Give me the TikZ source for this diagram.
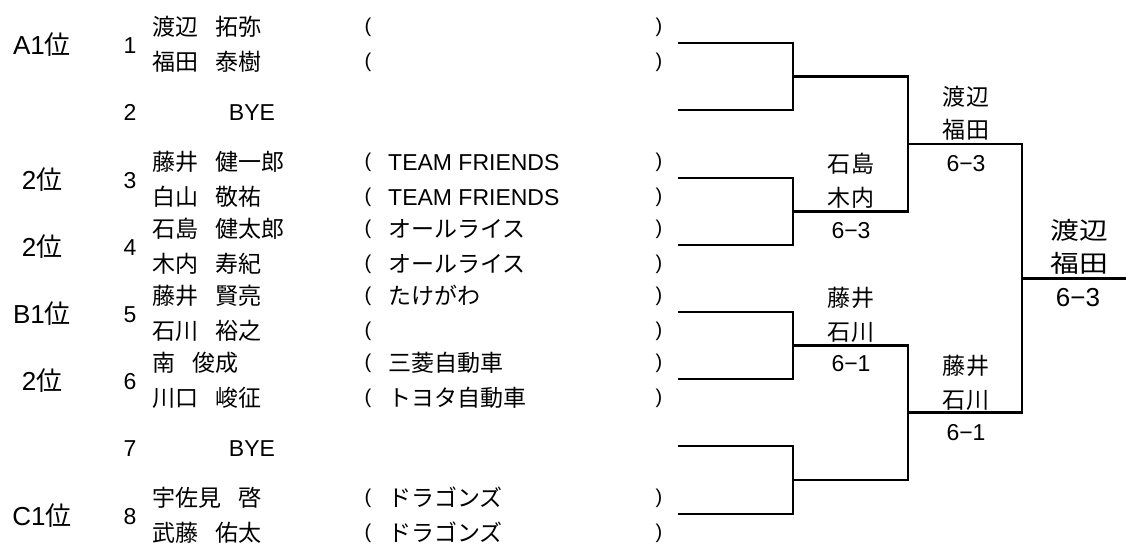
\documentclass[tikz,border=0pt]{standalone}
\usepackage{fontspec}
\setmainfont{Liberation Sans}
\newfontfamily\jp{Noto Sans CJK JP}
\newcommand\gap{\hspace{17pt}}
\newcommand\kk{\kern2pt}

\begin{document}
\begin{tikzpicture}[x=1pt,y=-1pt,
  txt/.style={inner sep=0pt,anchor=base,font=\fontsize{23}{23}\selectfont},
  seed/.style={txt,font=\fontsize{26}{26}\selectfont},
  player/.style={inner sep=0pt,anchor=base west,font=\jp\fontsize{23}{23}\selectfont},
  club/.style={player},
  paren/.style={inner sep=0pt,anchor=base,font=\fontsize{20}{20}\selectfont},
  res/.style={inner sep=0pt,anchor=base,font=\jp\fontsize{23}{23}\selectfont},
  score/.style={inner sep=0pt,anchor=base,font=\fontsize{23}{23}\selectfont},
  bline/.style={line width=2.9pt}]
\useasboundingbox (0,0) rectangle (1126,544);
% Seeds and draw numbers
\node[seed] (sa1) at (42,54) {A1{\jp 位}};
\node[seed] (s3) at (42,189) {2{\jp 位}};
\node[seed] (s4) at (42,256) {2{\jp 位}};
\node[seed] (sb1) at (42,323) {B1{\jp 位}};
\node[seed] (s6) at (42,390) {2{\jp 位}};
\node[seed] (sc1) at (42,525) {C1{\jp 位}};
\node[txt] (n1) at (130,53) {1};
\node[txt] (n2) at (130,120) {2};
\node[txt] (n3) at (130,188) {3};
\node[txt] (n4) at (130,255) {4};
\node[txt] (n5) at (130,322) {5};
\node[txt] (n6) at (130,389) {6};
\node[txt] (n7) at (130,456) {7};
\node[txt] (n8) at (130,524) {8};
\node[txt] (bye2) at (252,120) {BYE};
\node[txt] (bye7) at (252,456) {BYE};
% Players
\node[player] (p1a) at (152,35.5) {渡辺\gap 拓弥};
\node[player] (p1b) at (152,70.5) {福田\gap 泰樹};
\node[player] (p3a) at (152,170.5) {藤井\gap 健一郎};
\node[player] (p3b) at (152,205.5) {白山\gap 敬祐};
\node[player] (p4a) at (152,237.5) {石島\gap 健太郎};
\node[player] (p4b) at (152,272.5) {木内\gap 寿紀};
\node[player] (p5a) at (152,304.5) {藤井\gap 賢亮};
\node[player] (p5b) at (152,339.5) {石川\gap 裕之};
\node[player] (p6a) at (152,371.5) {南\gap 俊成};
\node[player] (p6b) at (152,406.5) {川口\gap 峻征};
\node[player] (p8a) at (152,506.5) {宇佐見\gap 啓};
\node[player] (p8b) at (152,541.5) {武藤\gap 佑太};
% Clubs
\node[paren] (l1a) at (368,32.2) {(};  \node[paren] (r1a) at (659,32.2) {)};
\node[paren] (l1b) at (368,67.2) {(};  \node[paren] (r1b) at (659,67.2) {)};
\node[paren] (l3a) at (368,167.2) {(}; \node[paren] (r3a) at (659,167.2) {)};
\node[paren] (l3b) at (368,202.2) {(}; \node[paren] (r3b) at (659,202.2) {)};
\node[paren] (l4a) at (368,234.2) {(}; \node[paren] (r4a) at (659,234.2) {)};
\node[paren] (l4b) at (368,269.2) {(}; \node[paren] (r4b) at (659,269.2) {)};
\node[paren] (l5a) at (368,301.2) {(}; \node[paren] (r5a) at (659,301.2) {)};
\node[paren] (l5b) at (368,336.2) {(}; \node[paren] (r5b) at (659,336.2) {)};
\node[paren] (l6a) at (368,368.2) {(}; \node[paren] (r6a) at (659,368.2) {)};
\node[paren] (l6b) at (368,403.2) {(}; \node[paren] (r6b) at (659,403.2) {)};
\node[paren] (l8a) at (368,503.2) {(}; \node[paren] (r8a) at (659,503.2) {)};
\node[paren] (l8b) at (368,538.2) {(}; \node[paren] (r8b) at (659,538.2) {)};
\node[club,font=\fontsize{23}{23}\selectfont] (c3a) at (388,170.5) {TEAM FRIENDS};
\node[club,font=\fontsize{23}{23}\selectfont] (c3b) at (388,205.5) {TEAM FRIENDS};
\node[club] (c4a) at (388,237.5) {オールライス};
\node[club] (c4b) at (388,272.5) {オールライス};
\node[club] (c5a) at (388,304.5) {たけがわ};
\node[club] (c6a) at (388,371.5) {三菱自動車};
\node[club] (c6b) at (388,406.5) {トヨタ自動車};
\node[club] (c8a) at (388,506.5) {ドラゴンズ};
\node[club] (c8b) at (388,541.5) {ドラゴンズ};
% Bracket
\coordinate (e1) at (678,43);
\coordinate (e2) at (678,110);
\coordinate (e3) at (678,178);
\coordinate (e4) at (678,245);
\coordinate (e5) at (678,312);
\coordinate (e6) at (678,379);
\coordinate (e7) at (678,446);
\coordinate (e8) at (678,514);
\coordinate (q1) at (793,76.5);
\coordinate (q2) at (793,211.5);
\coordinate (q3) at (793,345.5);
\coordinate (q4) at (793,480);
\coordinate (r1) at (908,144);
\coordinate (r2) at (908,412.75);
\coordinate (f) at (1022,278.4);
\coordinate (fin) at (1126,278.4);
\draw[bline] (e1) -| (q1) |- (e2);
\draw[bline] (e3) -| (q2) |- (e4);
\draw[bline] (e5) -| (q3) |- (e6);
\draw[bline] (e7) -| (q4) |- (e8);
\draw[bline] (q1) -| (r1) |- (q2);
\draw[bline] (q3) -| (r2) |- (q4);
\draw[bline] (r1) -| (f) |- (r2);
\draw[bline] (f) -- (fin);
% Results
\node[res] (w34a) at (851,172.5) {石\kk 島};
\node[res] (w34b) at (851,206) {木\kk 内};
\node[score] (w34s) at (851,238.3) {6−3};
\node[res] (w56a) at (851,306.5) {藤\kk 井};
\node[res] (w56b) at (851,340) {石\kk 川};
\node[score] (w56s) at (851,371.8) {6−1};
\node[res] (wt1) at (966,105) {渡\kk 辺};
\node[res] (wt2) at (966,138.5) {福\kk 田};
\node[score] (wts) at (966,171.3) {6−3};
\node[res] (wb1) at (966,374.5) {藤\kk 井};
\node[res] (wb2) at (966,408) {石\kk 川};
\node[score] (wbs) at (966,440.8) {6−1};
\node[res,font=\jp\fontsize{24}{24}\selectfont] (ch1) at (1079,239) {\scalebox{1.2}[1]{渡辺}};
\node[res,font=\jp\fontsize{24}{24}\selectfont] (ch2) at (1079,272) {\scalebox{1.2}[1]{福田}};
\node[score,font=\fontsize{26}{26}\selectfont] (chs) at (1078,306.4) {6−3};
\end{tikzpicture}
\end{document}
